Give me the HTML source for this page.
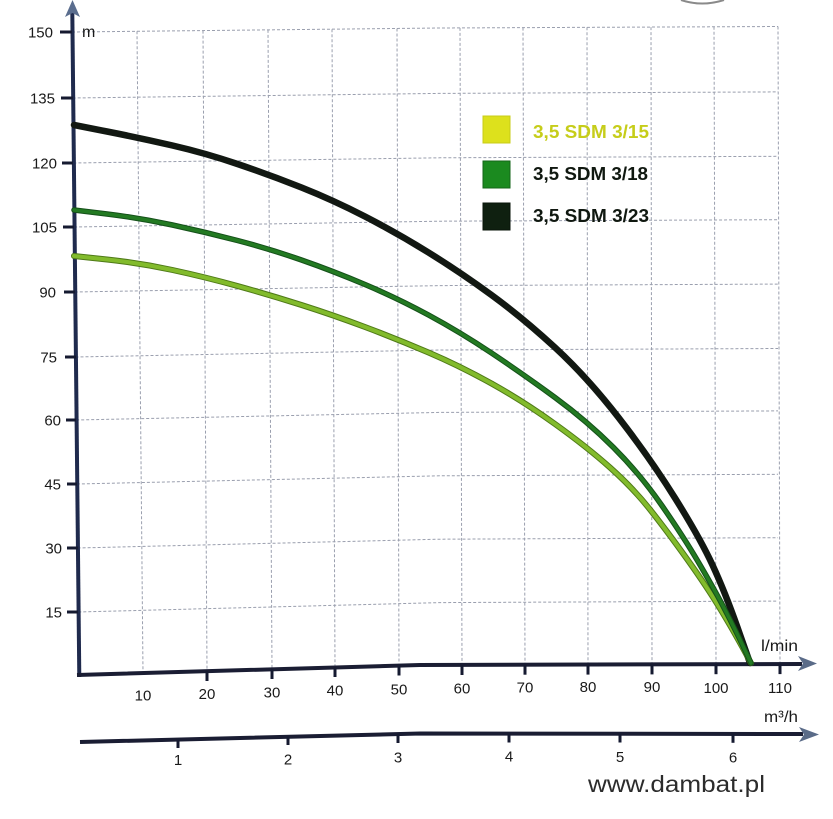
<!DOCTYPE html>
<html><head><meta charset="utf-8"><style>
html,body{margin:0;padding:0;background:#fff;}
svg{display:block;}
text{font-family:"Liberation Sans",Arial,sans-serif;}
</style></head><body>
<svg width="833" height="819" viewBox="0 0 833 819" xmlns="http://www.w3.org/2000/svg">
<rect width="833" height="819" fill="#fff"/>
<path d="M681,0 Q702,7 724,0" fill="none" stroke="#8a8a8a" stroke-width="2"/>

<g fill="none" stroke="#9a9fae" stroke-width="1" stroke-dasharray="3,2">
<polyline points="72,32 440,28 778,26.5"/>
<polyline points="72.7,98 440,93.4 778,91.9"/>
<polyline points="73.4,163 440,157.8 778,156.3"/>
<polyline points="74.1,227 440,221.2 778,219.7"/>
<polyline points="74.8,292 440,285.6 778,284.1"/>
<polyline points="75.5,357 440,350 778,348.5"/>
<polyline points="76.2,420 440,412.4 778,410.9"/>
<polyline points="76.9,484 440,475.8 778,474.3"/>
<polyline points="77.6,548 440,539.2 778,537.7"/>
<polyline points="78.3,612 440,602.6 778,601.1"/>
</g>
<g fill="none" stroke="#9a9fae" stroke-width="1" stroke-dasharray="3,2">
<line x1="137" y1="31.3" x2="143" y2="673.1"/>
<line x1="203" y1="30.6" x2="207" y2="671.2"/>
<line x1="268" y1="29.9" x2="272" y2="669.3"/>
<line x1="332" y1="29.2" x2="335" y2="667.5"/>
<line x1="397" y1="28.5" x2="399" y2="665.6"/>
<line x1="460" y1="27.9" x2="462" y2="664.9"/>
<line x1="523" y1="27.6" x2="525" y2="664.7"/>
<line x1="587" y1="27.3" x2="588" y2="664.6"/>
<line x1="651" y1="27.1" x2="652" y2="664.4"/>
<line x1="714" y1="26.8" x2="716" y2="664.2"/>
<line x1="778" y1="26.5" x2="780" y2="664.1"/>
</g>

<line x1="79.3" y1="677" x2="72.3" y2="12" stroke="#1f2a4d" stroke-width="4"/>
<path d="M72.5,0 L80,17 L72.5,13 L65,17 Z" fill="#5a6d8e"/>
<g stroke="#151a30" stroke-width="3">
<line x1="60" y1="32" x2="72" y2="32"/>
<line x1="61" y1="98" x2="73" y2="98"/>
<line x1="62" y1="163" x2="73" y2="163"/>
<line x1="63" y1="227" x2="74" y2="227"/>
<line x1="64" y1="292" x2="75" y2="292"/>
<line x1="65" y1="357" x2="76" y2="357"/>
<line x1="66" y1="420" x2="76" y2="420"/>
<line x1="67" y1="484" x2="77" y2="484"/>
<line x1="67" y1="548" x2="78" y2="548"/>
<line x1="67" y1="612" x2="78" y2="612"/>
</g>
<g font-size="15" fill="#1a1a1a" text-anchor="end">
<text x="53" y="37.5">150</text>
<text x="55" y="103.5">135</text>
<text x="57" y="168.5">120</text>
<text x="57" y="232.5">105</text>
<text x="56" y="297.5">90</text>
<text x="57" y="362.5">75</text>
<text x="61" y="425.5">60</text>
<text x="61" y="489.5">45</text>
<text x="62" y="553.5">30</text>
<text x="62" y="617.5">15</text>
</g>
<text x="82" y="37" font-size="16" fill="#1a1a1a">m</text>

<polyline points="77,675 420,665 802,664" fill="none" stroke="#1a1d33" stroke-width="4"/>
<path d="M817,663.5 L798,656 L803,663.5 L798,671 Z" fill="#5a6b88"/>
<g stroke="#151a30" stroke-width="3">
<line x1="207" y1="671" x2="207" y2="681"/>
<line x1="272" y1="669" x2="272" y2="679"/>
<line x1="335" y1="667" x2="335" y2="677"/>
<line x1="399" y1="665.5" x2="399" y2="675.5"/>
<line x1="462" y1="665" x2="462" y2="675"/>
<line x1="525" y1="664.7" x2="525" y2="674.7"/>
<line x1="588" y1="664.6" x2="588" y2="674.6"/>
<line x1="652" y1="664.4" x2="652" y2="674.4"/>
<line x1="716" y1="664.2" x2="716" y2="674.2"/>
<line x1="780" y1="664.1" x2="780" y2="674.1"/>
</g>
<g font-size="15" fill="#1a1a1a" text-anchor="middle">
<text x="143" y="700.5">10</text>
<text x="207" y="699">20</text>
<text x="272" y="697.5">30</text>
<text x="335" y="695.5">40</text>
<text x="399" y="694.5">50</text>
<text x="462" y="693.5">60</text>
<text x="525" y="692.5">70</text>
<text x="588" y="692">80</text>
<text x="652" y="692">90</text>
<text x="716" y="693">100</text>
<text x="780" y="693">110</text>
</g>
<text x="761" y="651" font-size="16" fill="#1a1a1a" textLength="37" lengthAdjust="spacingAndGlyphs">l/min</text>

<polyline points="80,742 420,733.5 803,734" fill="none" stroke="#1a1d33" stroke-width="4"/>
<path d="M819,734.5 L799,727 L804,734.5 L799,742 Z" fill="#5a6b88"/>
<g stroke="#151a30" stroke-width="3">
<line x1="178" y1="739.5" x2="178" y2="748"/>
<line x1="288" y1="736.5" x2="288" y2="745"/>
<line x1="398" y1="734" x2="398" y2="743"/>
<line x1="509" y1="733.5" x2="509" y2="742.5"/>
<line x1="620" y1="733.5" x2="620" y2="742.5"/>
<line x1="733" y1="733.8" x2="733" y2="742.8"/>
</g>
<g font-size="15" fill="#1a1a1a" text-anchor="middle">
<text x="178" y="765">1</text>
<text x="288" y="764.5">2</text>
<text x="398" y="762.5">3</text>
<text x="509" y="761.5">4</text>
<text x="620" y="762">5</text>
<text x="733" y="762.5">6</text>
</g>
<text x="764" y="722" font-size="16" fill="#1a1a1a" textLength="34" lengthAdjust="spacingAndGlyphs">m³/h</text>

<g fill="none" stroke-linejoin="round" stroke-linecap="round">
<path stroke="#121812" stroke-width="6.5" d="M74,125 L107,131.5 Q140,138 172.5,145.5 Q205,153 237.5,164 Q270,175 301.5,187.5 Q333,200 365,216.5 Q397,233 428.5,252.5 Q460,272 491.5,295 Q523,318 555,347.5 Q587,377 618.5,417.5 Q650,458 675,498 Q700,538 712.5,565 Q725,592 737.5,627.5 L750,663"/>
<path stroke="#4f7a18" stroke-width="6" d="M74,256 L107,259.5 Q140,263 172.5,270 Q205,277 237.5,286 Q270,295 301.5,305 Q333,315 365,327 Q397,339 428.5,352.5 Q460,366 491.5,383.5 Q523,401 555,424 Q587,447 610,467.5 Q633,488 650,509.5 Q667,531 687,559 Q707,587 720,608.5 Q733,630 742,646.5 L751,663"/>
<path stroke="#82bb2c" stroke-width="4" d="M74,256 L107,259.5 Q140,263 172.5,270 Q205,277 237.5,286 Q270,295 301.5,305 Q333,315 365,327 Q397,339 428.5,352.5 Q460,366 491.5,383.5 Q523,401 555,424 Q587,447 610,467.5 Q633,488 650,509.5 Q667,531 687,559 Q707,587 720,608.5 Q733,630 742,646.5 L751,663"/>
<path stroke="#15501a" stroke-width="5.5" d="M74,210 L107,214 Q140,218 172.5,225 Q205,232 237.5,240.5 Q270,249 301.5,260 Q333,271 365,284.5 Q397,298 428.5,315 Q460,332 491.5,353 Q523,374 555,397.5 Q587,421 613.5,447.5 Q640,474 661.5,505 Q683,536 698,561.5 Q713,587 723,606 Q733,625 742,644 L751,663"/>
<path stroke="#237a22" stroke-width="3.5" d="M74,210 L107,214 Q140,218 172.5,225 Q205,232 237.5,240.5 Q270,249 301.5,260 Q333,271 365,284.5 Q397,298 428.5,315 Q460,332 491.5,353 Q523,374 555,397.5 Q587,421 613.5,447.5 Q640,474 661.5,505 Q683,536 698,561.5 Q713,587 723,606 Q733,625 742,644 L751,663"/>
</g>

<rect x="483" y="116" width="27" height="27" fill="#dde11c" stroke="#c8cc18" stroke-width="1"/>
<rect x="483" y="161" width="27" height="27" fill="#1b8a1f" stroke="#15661a" stroke-width="1"/>
<rect x="483" y="203" width="27" height="27" fill="#0f2010" stroke="#0a140a" stroke-width="1"/>
<g font-size="18" font-weight="bold">
<text x="533" y="138" fill="#c6cd1a" textLength="116" lengthAdjust="spacingAndGlyphs">3,5 SDM 3/15</text>
<text x="533" y="180" fill="#101810" textLength="115" lengthAdjust="spacingAndGlyphs">3,5 SDM 3/18</text>
<text x="533" y="222" fill="#101810" textLength="116" lengthAdjust="spacingAndGlyphs">3,5 SDM 3/23</text>
</g>

<text x="588" y="792" font-size="23" fill="#2c2c2c" textLength="177" lengthAdjust="spacingAndGlyphs">www.dambat.pl</text>
</svg>
</body></html>
